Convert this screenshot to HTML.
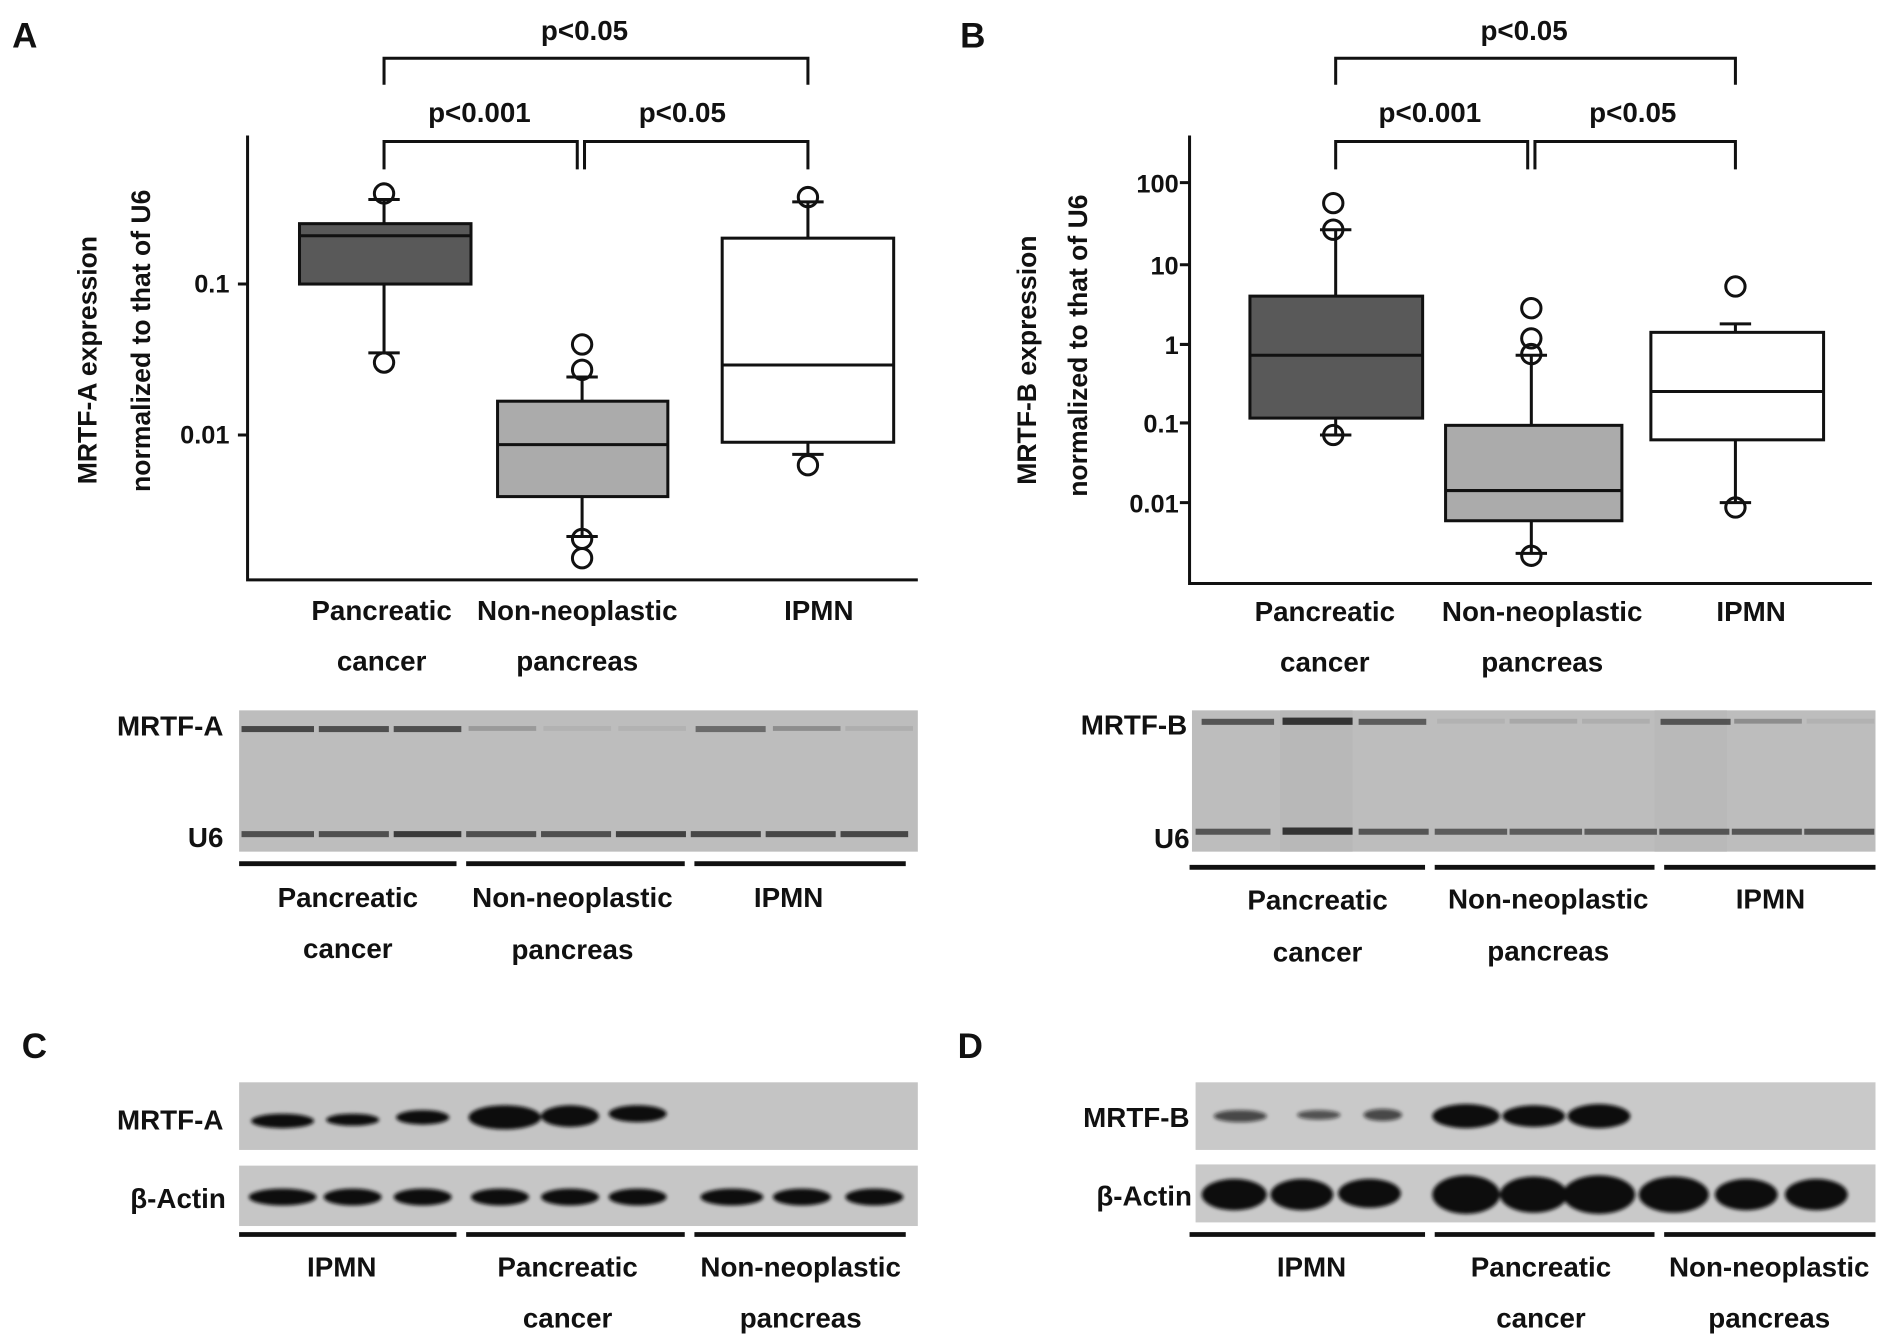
<!DOCTYPE html>
<html><head><style>body{margin:0;background:#fff}svg{display:block}text{font-family:"Liberation Sans",Arial,sans-serif;font-weight:bold;fill:#111}</style></head>
<body>
<svg width="1890" height="1341" viewBox="0 0 1565 1110" xmlns="http://www.w3.org/2000/svg">
<defs><filter id="bl"><feGaussianBlur stdDeviation="1.5"/></filter></defs>
<g font-size="29"><text x="10" y="39">A</text><text x="795" y="39">B</text><text x="18" y="876">C</text><text x="793" y="876">D</text></g>
<g stroke="#111" stroke-width="2.5" fill="none">
<path d="M205 112V480H760"/><path d="M197 235H205M197 360H205"/>
<path d="M318 70V48H669V70M318 140V117H478V140M484 140V117H669V140"/>
<path d="M318 165V185M318 235V292M305 165H331M305 292H331"/>
<rect x="248" y="185" width="142" height="50" fill="#595959"/><path d="M248 195H390"/>
<circle cx="318" cy="160" r="8"/><circle cx="318" cy="300" r="8"/>
<path d="M482 312V332M482 411V444M469 312H495M469 444H495"/>
<rect x="412" y="332" width="141" height="79" fill="#ababab"/><path d="M412 368H553"/>
<circle cx="482" cy="285" r="8"/><circle cx="482" cy="306" r="8"/><circle cx="482" cy="446" r="8"/><circle cx="482" cy="462" r="8"/>
<path d="M669 167V197M669 366V376M656 167H682M656 376H682"/>
<rect x="598" y="197" width="142" height="169" fill="#fff"/><path d="M598 302H740"/>
<circle cx="669" cy="163" r="8"/><circle cx="669" cy="385" r="8"/>
<path d="M985 112V483H1550"/><path d="M977 151H985M977 219H985M977 285H985M977 350H985M977 416H985"/>
<path d="M1106 70V48H1437V70M1106 140V117H1265V140M1271 140V117H1437V140"/>
<path d="M1106 190V245M1106 346V360M1093 190H1119M1093 360H1119"/>
<rect x="1035" y="245" width="143" height="101" fill="#595959"/><path d="M1035 294H1178"/>
<circle cx="1104" cy="168" r="8"/><circle cx="1104" cy="190" r="8"/><circle cx="1104" cy="360" r="8"/>
<path d="M1268 294V352M1268 431V458M1255 294H1281M1255 458H1281"/>
<rect x="1197" y="352" width="146" height="79" fill="#ababab"/><path d="M1197 406H1343"/>
<circle cx="1268" cy="255" r="8"/><circle cx="1268" cy="280" r="8"/><circle cx="1268" cy="293" r="8"/><circle cx="1268" cy="460" r="8"/>
<path d="M1437 268V275M1437 364V416M1424 268H1450M1424 416H1450"/>
<rect x="1367" y="275" width="143" height="89" fill="#fff"/><path d="M1367 324H1510"/>
<circle cx="1437" cy="237" r="8"/><circle cx="1437" cy="420" r="8"/>
</g>
<g font-size="23" text-anchor="middle">
<text x="484" y="33">p&lt;0.05</text><text x="397" y="101">p&lt;0.001</text><text x="565" y="101">p&lt;0.05</text>
<text x="1262" y="33">p&lt;0.05</text><text x="1184" y="101">p&lt;0.001</text><text x="1352" y="101">p&lt;0.05</text>
</g>
<g font-size="21" text-anchor="end"><text x="190" y="242">0.1</text><text x="190" y="367">0.01</text>
<text x="976" y="159">100</text><text x="976" y="227">10</text><text x="976" y="293">1</text><text x="976" y="358">0.1</text><text x="976" y="424">0.01</text></g>
<g font-size="22" text-anchor="middle">
<text transform="translate(80,298) rotate(-90)">MRTF-A expression</text>
<text transform="translate(124,282) rotate(-90)">normalized to that of  U6</text>
<text transform="translate(858,298) rotate(-90)">MRTF-B expression</text>
<text transform="translate(900,286) rotate(-90)">normalized to that of U6</text>
</g>
<g font-size="23" text-anchor="middle">
<text x="316" y="513">Pancreatic</text><text x="316" y="555">cancer</text>
<text x="478" y="513">Non-neoplastic</text><text x="478" y="555">pancreas</text><text x="678" y="513">IPMN</text>
<text x="1097" y="514">Pancreatic</text><text x="1097" y="556">cancer</text>
<text x="1277" y="514">Non-neoplastic</text><text x="1277" y="556">pancreas</text><text x="1450" y="514">IPMN</text>
<text x="288" y="751">Pancreatic</text><text x="288" y="793">cancer</text>
<text x="474" y="751">Non-neoplastic</text><text x="474" y="794">pancreas</text><text x="653" y="751">IPMN</text>
<text x="1091" y="753">Pancreatic</text><text x="1091" y="796">cancer</text>
<text x="1282" y="752">Non-neoplastic</text><text x="1282" y="795">pancreas</text><text x="1466" y="752">IPMN</text>
<text x="283" y="1057">IPMN</text><text x="470" y="1057">Pancreatic</text><text x="470" y="1099">cancer</text>
<text x="663" y="1057">Non-neoplastic</text><text x="663" y="1099">pancreas</text>
<text x="1086" y="1057">IPMN</text><text x="1276" y="1057">Pancreatic</text><text x="1276" y="1099">cancer</text>
<text x="1465" y="1057">Non-neoplastic</text><text x="1465" y="1099">pancreas</text>
</g>
<g font-size="23" text-anchor="end">
<text x="185" y="609">MRTF-A</text><text x="185" y="701">U6</text>
<text x="983" y="608">MRTF-B</text><text x="985" y="702">U6</text>
<text x="185" y="935">MRTF-A</text><text x="187" y="1000">β-Actin</text>
<text x="985" y="933">MRTF-B</text><text x="987" y="998">β-Actin</text>
</g>
<rect x="198" y="588" width="562" height="117" fill="#bdbdbd"/>
<g fill="#333">
<rect x="200" y="601" width="60" height="5" opacity=".85"/><rect x="264" y="601" width="58" height="5" opacity=".8"/><rect x="326" y="601" width="56" height="5" opacity=".8"/>
<rect x="388" y="601" width="56" height="4" opacity=".25"/><rect x="450" y="601" width="56" height="4" opacity=".08"/><rect x="512" y="601" width="56" height="4" opacity=".08"/>
<rect x="576" y="601" width="58" height="5" opacity=".6"/><rect x="640" y="601" width="56" height="4" opacity=".35"/><rect x="700" y="601" width="56" height="4" opacity=".1"/>
<rect x="200" y="688" width="60" height="5" opacity=".8"/><rect x="264" y="688" width="58" height="5" opacity=".8"/><rect x="326" y="688" width="56" height="5" opacity=".95"/>
<rect x="386" y="688" width="58" height="5" opacity=".8"/><rect x="448" y="688" width="58" height="5" opacity=".8"/><rect x="510" y="688" width="58" height="5" opacity=".9"/>
<rect x="572" y="688" width="58" height="5" opacity=".85"/><rect x="634" y="688" width="58" height="5" opacity=".85"/><rect x="696" y="688" width="56" height="5" opacity=".85"/>
</g>
<rect x="987" y="588" width="566" height="117" fill="#bdbdbd"/>
<rect x="1060" y="588" width="60" height="117" fill="#b8b8b8"/><rect x="1370" y="588" width="60" height="117" fill="#b9b9b9"/>
<g fill="#333">
<rect x="995" y="595" width="60" height="5" opacity=".75"/><rect x="1062" y="594" width="58" height="6" opacity="1"/><rect x="1125" y="595" width="56" height="5" opacity=".7"/>
<rect x="1190" y="595" width="56" height="4" opacity=".08"/><rect x="1250" y="595" width="56" height="4" opacity=".15"/><rect x="1310" y="595" width="56" height="4" opacity=".1"/>
<rect x="1375" y="595" width="58" height="5" opacity=".75"/><rect x="1436" y="595" width="56" height="4" opacity=".35"/><rect x="1496" y="595" width="56" height="4" opacity=".08"/>
<rect x="990" y="686" width="62" height="5" opacity=".75"/><rect x="1062" y="685" width="58" height="6" opacity="1"/><rect x="1125" y="686" width="58" height="5" opacity=".75"/>
<rect x="1188" y="686" width="60" height="5" opacity=".7"/><rect x="1250" y="686" width="60" height="5" opacity=".7"/><rect x="1312" y="686" width="60" height="5" opacity=".7"/>
<rect x="1374" y="686" width="58" height="5" opacity=".75"/><rect x="1434" y="686" width="58" height="5" opacity=".75"/><rect x="1494" y="686" width="58" height="5" opacity=".75"/>
</g>
<rect x="198" y="896" width="562" height="56" fill="#c4c4c4"/><rect x="198" y="965" width="562" height="50" fill="#c6c6c6"/>
<g fill="#111" filter="url(#bl)">
<ellipse cx="234" cy="928" rx="26" ry="6"/><ellipse cx="292" cy="927" rx="22" ry="5"/><ellipse cx="350" cy="925" rx="22" ry="6"/>
<ellipse cx="418" cy="925" rx="30" ry="10"/><ellipse cx="472" cy="924" rx="24" ry="9"/><ellipse cx="528" cy="922" rx="24" ry="7"/>
<ellipse cx="234" cy="991" rx="28" ry="7"/><ellipse cx="292" cy="991" rx="24" ry="7"/><ellipse cx="350" cy="991" rx="24" ry="7"/>
<ellipse cx="414" cy="991" rx="24" ry="7"/><ellipse cx="472" cy="991" rx="24" ry="7"/><ellipse cx="528" cy="991" rx="24" ry="7"/>
<ellipse cx="606" cy="991" rx="26" ry="7"/><ellipse cx="664" cy="991" rx="24" ry="7"/><ellipse cx="724" cy="991" rx="24" ry="7"/>
</g>
<rect x="990" y="896" width="563" height="56" fill="#c9c9c9"/><rect x="990" y="964" width="563" height="48" fill="#c9c9c9"/>
<g fill="#111" filter="url(#bl)">
<ellipse cx="1027" cy="924" rx="22" ry="5" opacity=".7"/><ellipse cx="1092" cy="923" rx="18" ry="4" opacity=".65"/><ellipse cx="1145" cy="923" rx="16" ry="5" opacity=".7"/>
<ellipse cx="1214" cy="924" rx="28" ry="10"/><ellipse cx="1270" cy="924" rx="26" ry="9"/><ellipse cx="1324" cy="924" rx="26" ry="10"/>
<ellipse cx="1022" cy="989" rx="27" ry="13"/><ellipse cx="1078" cy="989" rx="26" ry="13"/><ellipse cx="1134" cy="988" rx="26" ry="12"/>
<ellipse cx="1214" cy="989" rx="28" ry="16"/><ellipse cx="1270" cy="989" rx="28" ry="15"/><ellipse cx="1324" cy="989" rx="30" ry="16"/>
<ellipse cx="1386" cy="989" rx="29" ry="15"/><ellipse cx="1446" cy="989" rx="26" ry="13"/><ellipse cx="1504" cy="989" rx="26" ry="13"/>
</g>
<g stroke="#111" stroke-width="4">
<path d="M198 715H378M386 715H567M575 715H750"/>
<path d="M985 718H1180M1188 718H1370M1378 718H1553"/>
<path d="M198 1022H378M386 1022H567M575 1022H750"/>
<path d="M985 1022H1180M1188 1022H1370M1378 1022H1553"/>
</g>
</svg>
</body></html>
